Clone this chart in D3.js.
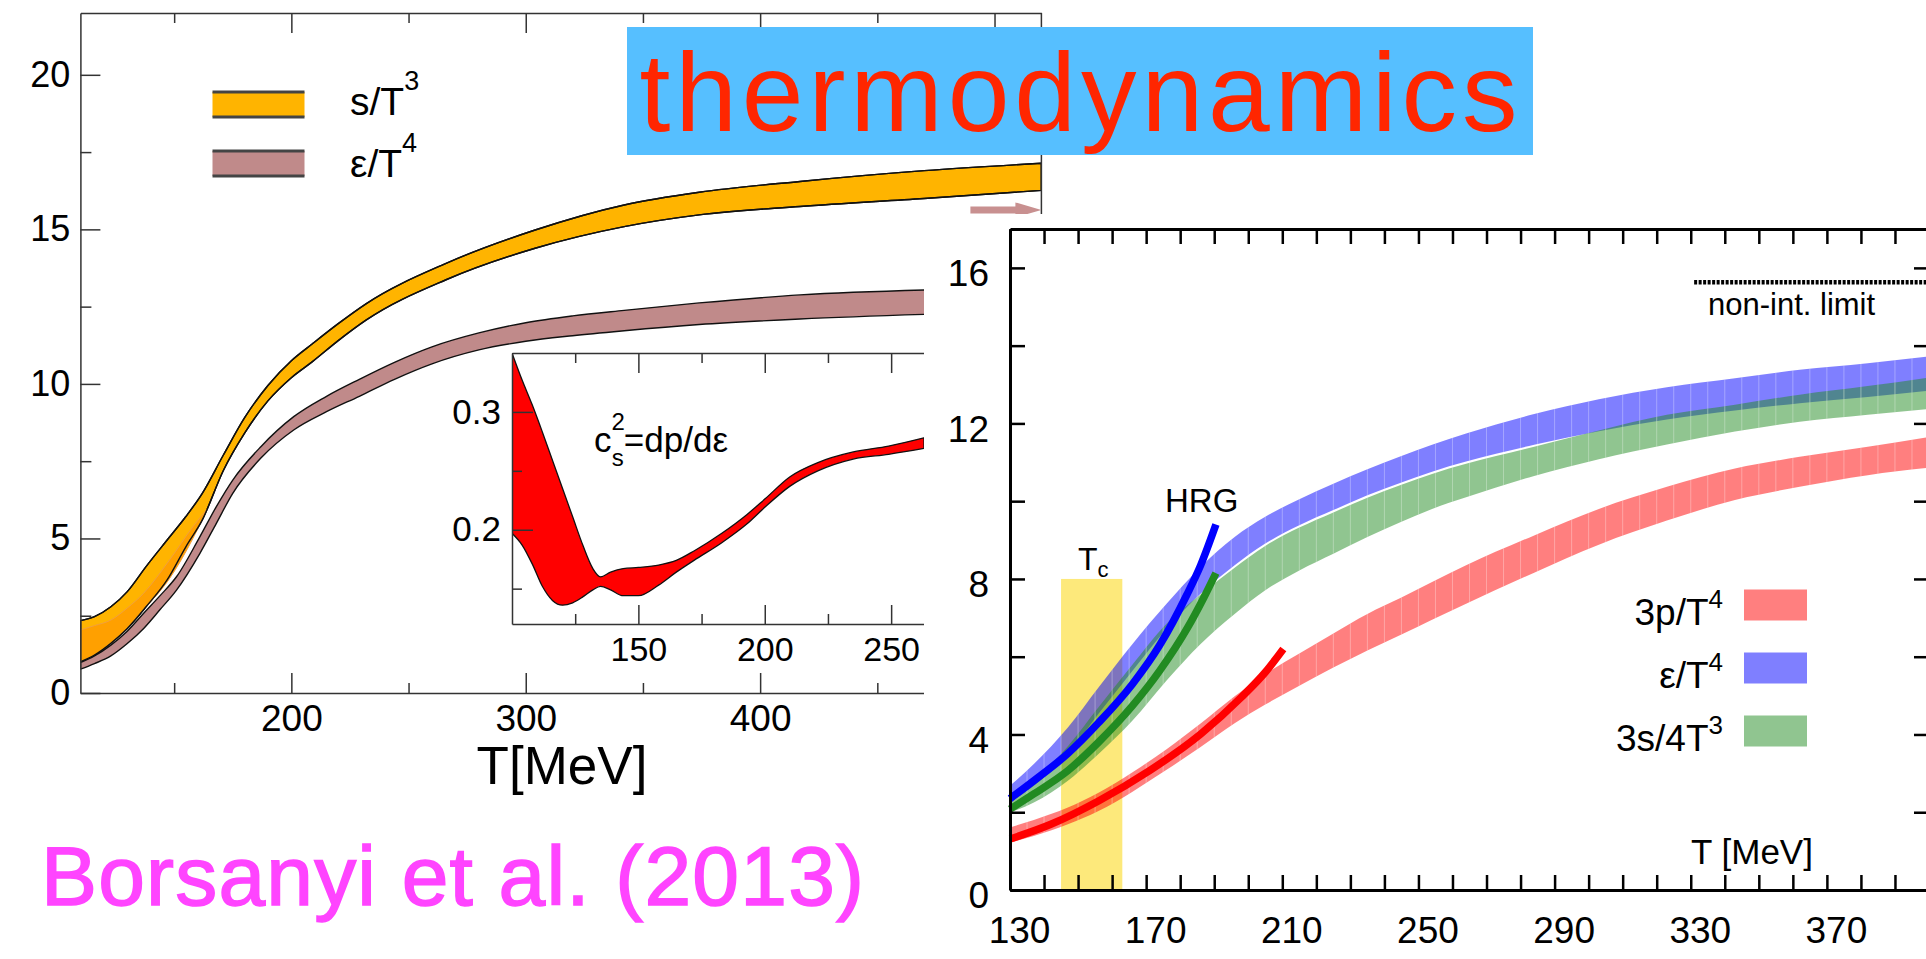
<!DOCTYPE html>
<html lang="en">
<head>
<meta charset="UTF-8">
<title>thermodynamics</title>
<script src="https://d3js.org/d3.v7.min.js"></script>
<style>
  body { margin: 0; background: #fff; }
  svg { display: block; font-family: "Liberation Sans", Arial, Helvetica, sans-serif; }
</style>
</head>
<body>
<svg id="chart" width="1926" height="959"></svg>
<script>
// ---------- left panel: entropy and energy density bands
const sT     = [110, 116, 123, 130, 138, 147, 155, 162, 171, 180, 190, 200, 209, 220, 232, 266, 304, 342, 374, 417, 470, 520];
const sUpper = [2.34, 2.47, 2.79, 3.28, 4.09, 4.95, 5.71, 6.46, 7.7, 8.9, 9.95, 10.75, 11.3, 11.95, 12.6, 13.9, 14.98, 15.79, 16.2, 16.55, 16.9, 17.14];
const sLower = [1.01, 1.23, 1.61, 2.09, 2.79, 3.66, 4.73, 5.6, 7.2, 8.4, 9.45, 10.2, 10.72, 11.4, 12.07, 13.37, 14.39, 15.09, 15.47, 15.74, 16.0, 16.26];
// darker strip inside the s/T^3 band at low T
const sDarkT  = [110, 116, 123, 130, 137, 148, 158, 164];
const sDarkHi = [2.04, 2.18, 2.36, 2.75, 3.23, 4.3, 5.38, 5.95];
const sDarkLo = [1.01, 1.23, 1.61, 2.09, 2.7, 3.7, 5.0, 5.95];

const eT     = [110, 116, 123, 130, 137, 144, 151, 161, 168, 175, 187, 201, 215, 229, 244, 260, 280, 300, 320, 342, 374, 417, 470, 520];
const eUpper = [0.98, 1.2, 1.55, 2.0, 2.58, 3.15, 3.76, 5.06, 6.03, 6.89, 7.97, 8.94, 9.6, 10.15, 10.7, 11.2, 11.65, 11.98, 12.2, 12.38, 12.62, 12.88, 13.04, 13.1];
const eLower = [0.77, 0.95, 1.2, 1.6, 2.09, 2.7, 3.33, 4.52, 5.49, 6.46, 7.6, 8.51, 9.1, 9.6, 10.15, 10.65, 11.1, 11.38, 11.56, 11.72, 11.92, 12.1, 12.25, 12.35];
const sbLimit = 15.63;

const leftXMajor = [200, 300, 400, 500];
const leftXLabels = [200, 300, 400];
const leftXMinor = [150, 250, 350, 450];
const leftYMajor = [0, 5, 10, 15, 20];
const leftYMinor = [2.5, 7.5, 12.5, 17.5];

// ---------- inset: speed of sound
const csT  = [100, 104, 108, 112, 116, 120, 124, 128, 132, 135, 139, 144, 150, 158, 165, 172, 183, 193, 200, 210, 221, 235, 249, 263];
const csHi = [0.350, 0.327, 0.306, 0.283, 0.259, 0.235, 0.211, 0.187, 0.167, 0.160, 0.164, 0.167, 0.168, 0.170, 0.174, 0.182, 0.197, 0.213, 0.226, 0.245, 0.257, 0.266, 0.271, 0.278];
const csLo = [0.197, 0.187, 0.171, 0.152, 0.140, 0.136, 0.138, 0.143, 0.149, 0.152, 0.149, 0.144, 0.144, 0.153, 0.164, 0.174, 0.189, 0.205, 0.219, 0.237, 0.250, 0.260, 0.264, 0.269];
const insetXMajor = [150, 200, 250];
const insetXMinor = [125, 175, 225];
const insetYMajor = [0.2, 0.3];
const insetYMinor = [0.15, 0.25];

// ---------- right panel
const rT      = [130, 137, 147, 156, 166, 176, 186, 196, 205, 215, 225, 235, 245, 254, 264, 284, 303, 323, 343, 362, 382, 400];
const epsHi   = [2.68, 3.24, 4.18, 5.21, 6.33, 7.36, 8.31, 9.08, 9.6, 10.05, 10.45, 10.82, 11.16, 11.45, 11.74, 12.24, 12.62, 12.93, 13.16, 13.38, 13.55, 13.72];
const epsLo   = [2.25, 2.68, 3.5, 4.53, 5.64, 6.72, 7.62, 8.35, 8.91, 9.38, 9.77, 10.15, 10.48, 10.76, 11.02, 11.45, 11.8, 12.1, 12.33, 12.52, 12.68, 12.84];
const entHi   = [2.35, 2.82, 3.7, 4.7, 5.8, 6.85, 7.6, 8.29, 8.85, 9.32, 9.71, 10.09, 10.42, 10.7, 10.96, 11.4, 11.82, 12.22, 12.48, 12.74, 12.96, 13.18];
const entLo   = [1.99, 2.25, 2.81, 3.5, 4.36, 5.39, 6.33, 7.1, 7.71, 8.22, 8.65, 9.08, 9.47, 9.8, 10.1, 10.65, 11.08, 11.46, 11.79, 12.04, 12.22, 12.37];
const presHi  = [1.61, 1.8, 2.12, 2.5, 3.03, 3.62, 4.28, 4.98, 5.55, 6.08, 6.6, 7.1, 7.52, 7.92, 8.35, 9.12, 9.8, 10.37, 10.84, 11.14, 11.4, 11.65];
const presLo  = [1.22, 1.39, 1.69, 2.03, 2.53, 3.09, 3.68, 4.29, 4.77, 5.25, 5.72, 6.16, 6.57, 6.95, 7.36, 8.16, 8.88, 9.5, 10.03, 10.37, 10.67, 10.86];

const hrgET = [130, 137, 147, 156, 166, 174, 182, 186, 190.5];
const hrgE  = [2.35, 2.81, 3.51, 4.3, 5.3, 6.3, 7.6, 8.35, 9.4];
const hrgST = [130, 137, 147, 156, 166, 174, 182, 187, 190.5];
const hrgS  = [2.08, 2.47, 3.07, 3.8, 4.74, 5.64, 6.72, 7.53, 8.15];
const hrgPT = [130, 142, 156, 171, 186, 198, 205, 210.3];
const hrgP  = [1.31, 1.69, 2.29, 3.07, 4.01, 4.96, 5.6, 6.2];

const tcRange = [145, 163];
const tcTop = 8;
const nonIntStart = 331;
const rightXTicks = d3.range(130, 401, 10);
const rightXLabels = [130, 170, 210, 250, 290, 330, 370];
const rightYTicks = d3.range(0, 17, 2);
const rightYLabels = [0, 4, 8, 12, 16];

// ---------- helpers
const svg = d3.select("#chart");

function band(x, y, T, hi, lo) {
  return d3.area().curve(d3.curveMonotoneX)
    .x((d, i) => x(T[i])).y1((d, i) => y(hi[i])).y0((d, i) => y(lo[i]))(T);
}
function curve(x, y, T, v) {
  return d3.line().curve(d3.curveMonotoneX)
    .x((d, i) => x(T[i])).y((d, i) => y(v[i]))(T);
}
// inward ticks, optional labels
function axis(g, maker, scale, values, size, opts) {
  opts = opts || {};
  const a = maker(scale).tickValues(values).tickSizeInner(-size).tickSizeOuter(0)
    .tickPadding(opts.pad || 0);
  a.tickFormat(opts.format || (() => ""));
  g.call(a);
  g.attr("font-family", null).attr("font-size", null);
  if (!opts.domain) g.select(".domain").remove();
  g.selectAll("path, line").attr("stroke", opts.color || "#333").attr("stroke-width", opts.width || 1.5);
  g.selectAll("text").attr("font-size", opts.fontSize || 30).attr("fill", "#000");
  g.selectAll(".tick").filter(function () { return d3.select(this).select("text").text() === ""; })
    .select("text").remove();
  return g;
}

// ---------- left panel
const xL = d3.scaleLinear().domain([110, 520]).range([80.4, 1041.4]);
const yL = d3.scaleLinear().domain([0, 22]).range([693, 13]);

svg.append("clipPath").attr("id", "clipL").append("rect")
  .attr("x", xL(110)).attr("y", yL(22)).attr("width", xL(520) - xL(110)).attr("height", yL(0) - yL(22));

const bandsL = svg.append("g").attr("clip-path", "url(#clipL)");
bandsL.append("path").attr("d", band(xL, yL, sT, sUpper, sLower))
  .attr("fill", "#ffb400").attr("stroke", "#111").attr("stroke-width", 1.4);
bandsL.append("path").attr("d", band(xL, yL, sDarkT, sDarkHi, sDarkLo))
  .attr("fill", "#ffa000").attr("stroke", "#f0a040").attr("stroke-width", 1);
bandsL.append("path").attr("d", band(xL, yL, sT, sUpper, sLower))
  .attr("fill", "none").attr("stroke", "#111").attr("stroke-width", 1.4);
bandsL.append("path").attr("d", band(xL, yL, eT, eUpper, eLower))
  .attr("fill", "#c08a8a").attr("stroke", "#111").attr("stroke-width", 1.4);

axis(svg.append("g").attr("transform", `translate(0,${yL(0)})`), d3.axisBottom, xL, leftXMajor, 20,
  { domain: true, pad: 12, format: d => leftXLabels.includes(d) ? d : "", fontSize: 37 });
axis(svg.append("g").attr("transform", `translate(0,${yL(0)})`), d3.axisBottom, xL, leftXMinor, 10);
axis(svg.append("g").attr("transform", `translate(0,${yL(22)})`), d3.axisTop, xL, leftXMajor, 20, { domain: true });
axis(svg.append("g").attr("transform", `translate(0,${yL(22)})`), d3.axisTop, xL, leftXMinor, 10);
axis(svg.append("g").attr("transform", `translate(${xL(110)},0)`), d3.axisLeft, yL, leftYMajor, 20,
  { domain: true, pad: 10, format: d => d, fontSize: 36 });
axis(svg.append("g").attr("transform", `translate(${xL(110)},0)`), d3.axisLeft, yL, leftYMinor, 11);
svg.append("line").attr("x1", xL(520)).attr("x2", xL(520)).attr("y1", yL(22)).attr("y2", yL(0))
  .attr("stroke", "#333").attr("stroke-width", 1.5);

svg.append("text").attr("x", 562).attr("y", 784).attr("text-anchor", "middle")
  .attr("font-size", 53).text("T[MeV]");

// legend
const legendL = [
  { name: "s/T", sup: "3", fill: "#ffb400", cy: 104.5, base: 115 },
  { name: "ε/T", sup: "4", fill: "#c08a8a", cy: 163.5, base: 177 }
];
legendL.forEach(d => {
  const g = svg.append("g");
  g.append("rect").attr("x", 212.5).attr("y", d.cy - 12.5).attr("width", 92).attr("height", 25).attr("fill", d.fill);
  [d.cy - 12.5, d.cy + 12.5].forEach(yy => g.append("line")
    .attr("x1", 212.5).attr("x2", 304.5).attr("y1", yy).attr("y2", yy)
    .attr("stroke", "#444").attr("stroke-width", 3));
  const t = g.append("text").attr("x", 350).attr("y", d.base).attr("font-size", 39);
  t.append("tspan").text(d.name);
  t.append("tspan").attr("font-size", 27).attr("dy", -25).text(d.sup);
});

// Stefan-Boltzmann arrow at right edge
const tipX = xL(520), tipY = yL(sbLimit);
svg.append("polygon")
  .attr("points", [[tipX - 71, tipY - 3.5], [tipX - 26, tipY - 3.5], [tipX - 26, tipY - 7.5], [tipX, tipY],
                   [tipX - 26, tipY + 7.5], [tipX - 26, tipY + 3.5], [tipX - 71, tipY + 3.5]].join(" "))
  .attr("fill", "#c89090");

// ---------- inset
const xI = d3.scaleLinear().domain([100, 263]).range([512, 924]);
const yI = d3.scaleLinear().domain([0.12, 0.35]).range([624, 353]);
svg.append("rect").attr("x", xI(100)).attr("y", yI(0.35)).attr("width", xI(263) - xI(100))
  .attr("height", yI(0.12) - yI(0.35)).attr("fill", "#fff");
svg.append("clipPath").attr("id", "clipI").append("rect")
  .attr("x", xI(100)).attr("y", yI(0.35)).attr("width", xI(263) - xI(100)).attr("height", yI(0.12) - yI(0.35));
svg.append("g").attr("clip-path", "url(#clipI)").append("path")
  .attr("d", band(xI, yI, csT, csHi, csLo))
  .attr("fill", "#ff0000").attr("stroke", "#111").attr("stroke-width", 1.3);

axis(svg.append("g").attr("transform", `translate(0,${yI(0.12)})`), d3.axisBottom, xI, insetXMajor, 19,
  { domain: true, pad: 13, format: d => d, fontSize: 34 });
axis(svg.append("g").attr("transform", `translate(0,${yI(0.12)})`), d3.axisBottom, xI, insetXMinor, 10);
axis(svg.append("g").attr("transform", `translate(0,${yI(0.35)})`), d3.axisTop, xI, insetXMajor, 20, { domain: true });
axis(svg.append("g").attr("transform", `translate(0,${yI(0.35)})`), d3.axisTop, xI, insetXMinor, 10);
axis(svg.append("g").attr("transform", `translate(${xI(100)},0)`), d3.axisLeft, yI, insetYMajor, 21,
  { domain: true, pad: 11, format: d3.format(".1f"), fontSize: 35 });
axis(svg.append("g").attr("transform", `translate(${xI(100)},0)`), d3.axisLeft, yI, insetYMinor, 10);

const cs = svg.append("text").attr("x", 594).attr("y", 452).attr("font-size", 35);
cs.append("tspan").text("c");
cs.append("tspan").attr("font-size", 24).attr("dy", -22).text("2");
cs.append("tspan").attr("font-size", 24).attr("dx", -13).attr("dy", 36).text("s");
cs.append("tspan").attr("dy", -14).text("=dp/dε");

// ---------- right panel (pasted figure on white)
svg.append("rect").attr("x", 924).attr("y", 214).attr("width", 1926 - 924).attr("height", 959 - 214).attr("fill", "#fff");

const xR = d3.scaleLinear().domain([130, 400]).range([1010, 1929]);
const yR = d3.scaleLinear().domain([0, 17]).range([890, 229]);

svg.append("rect").attr("x", xR(tcRange[0])).attr("y", yR(tcTop))
  .attr("width", xR(tcRange[1]) - xR(tcRange[0])).attr("height", yR(0) - yR(tcTop))
  .attr("fill", "#fde97b");

const bandsR = [
  { id: "pres", hi: presHi, lo: presLo, fill: "rgba(255,0,0,0.5)" },
  { id: "eps",  hi: epsHi,  lo: epsLo,  fill: "rgba(0,0,255,0.5)" },
  { id: "ent",  hi: entHi,  lo: entLo,  fill: "rgba(34,139,34,0.5)" }
];
bandsR.forEach(b => {
  const d = band(xR, yR, rT, b.hi, b.lo);
  svg.append("path").attr("d", d).attr("fill", b.fill);
  svg.append("clipPath").attr("id", "clip-" + b.id).append("path").attr("d", d);
  svg.append("g").attr("clip-path", `url(#clip-${b.id})`).selectAll("line")
    .data(d3.range(135, 400, 5)).join("line")
    .attr("x1", t => xR(t)).attr("x2", t => xR(t)).attr("y1", yR(17)).attr("y2", yR(0))
    .attr("stroke", "#fff").attr("stroke-opacity", 0.3).attr("stroke-width", 1);
});

const hrg = [
  { T: hrgET, v: hrgE, color: "#0000ff" },
  { T: hrgST, v: hrgS, color: "#228b22" },
  { T: hrgPT, v: hrgP, color: "#ff0000" }
];
hrg.forEach(h => svg.append("path").attr("d", curve(xR, yR, h.T, h.v))
  .attr("fill", "none").attr("stroke", h.color).attr("stroke-width", 7.5));

// non-interacting limit
svg.append("line").attr("x1", xR(nonIntStart)).attr("x2", xR(400)).attr("y1", yR(sbLimit)).attr("y2", yR(sbLimit))
  .attr("stroke", "#000").attr("stroke-width", 4.5).attr("stroke-dasharray", "3,1.5");
svg.append("text").attr("x", 1708).attr("y", 315).attr("font-size", 31).text("non-int. limit");

// axes of the right panel
const rOpts = { color: "#000", width: 2.5 };
axis(svg.append("g").attr("transform", `translate(0,${yR(0)})`), d3.axisBottom, xR, rightXTicks, 15,
  Object.assign({ domain: true, pad: 27, fontSize: 37, format: d => rightXLabels.includes(d) ? d : "" }, rOpts))
  .selectAll("text").attr("dx", 9);
axis(svg.append("g").attr("transform", `translate(0,${yR(17)})`), d3.axisTop, xR, rightXTicks, 15,
  Object.assign({ domain: true }, rOpts));
axis(svg.append("g").attr("transform", `translate(${xR(130)},0)`), d3.axisLeft, yR, rightYTicks, 15,
  Object.assign({ domain: true, pad: 21, fontSize: 37, format: d => rightYLabels.includes(d) ? d : "" }, rOpts))
  .selectAll("text").attr("dy", "0.48em");
axis(svg.append("g").attr("transform", `translate(${xR(400)},0)`), d3.axisRight, yR, rightYTicks, 15,
  Object.assign({ domain: true }, rOpts));
svg.selectAll(".domain").filter(function () { return this.getAttribute("stroke") === "#000"; })
  .attr("stroke-width", 3);

// labels inside the right panel
const tc = svg.append("text").attr("x", 1078).attr("y", 570).attr("font-size", 32);
tc.append("tspan").text("T");
tc.append("tspan").attr("font-size", 22).attr("dy", 7).text("c");
svg.append("text").attr("x", 1165).attr("y", 512).attr("font-size", 33).text("HRG");
svg.append("text").attr("x", 1752).attr("y", 864).attr("text-anchor", "middle").attr("font-size", 35).text("T [MeV]");

const legendR = [
  { name: "3p/T", sup: "4", fill: "rgba(255,0,0,0.5)", cy: 605 },
  { name: "ε/T", sup: "4", fill: "rgba(0,0,255,0.5)", cy: 668 },
  { name: "3s/4T", sup: "3", fill: "rgba(34,139,34,0.5)", cy: 731 }
];
legendR.forEach(d => {
  svg.append("rect").attr("x", 1744).attr("y", d.cy - 15.5).attr("width", 63).attr("height", 31).attr("fill", d.fill);
  const t = svg.append("text").attr("x", 1723).attr("y", d.cy + 20).attr("text-anchor", "end").attr("font-size", 37);
  t.append("tspan").text(d.name);
  t.append("tspan").attr("font-size", 26).attr("dy", -17).text(d.sup);
});

// ---------- title and citation
svg.append("rect").attr("x", 627).attr("y", 27).attr("width", 906).attr("height", 128).attr("fill", "#56bfff");
svg.append("text").attr("x", 639.5).attr("y", 131).attr("font-size", 111).attr("fill", "#ff2600")
  .attr("textLength", 878).attr("lengthAdjust", "spacing").text("thermodynamics");
svg.append("text").attr("x", 41).attr("y", 905).attr("font-size", 84).attr("fill", "#ff44ff")
  .attr("stroke", "#ff44ff").attr("stroke-width", 1.5)
  .attr("textLength", 823).attr("lengthAdjust", "spacing").text("Borsanyi et al. (2013)");
</script>
</body>
</html>
